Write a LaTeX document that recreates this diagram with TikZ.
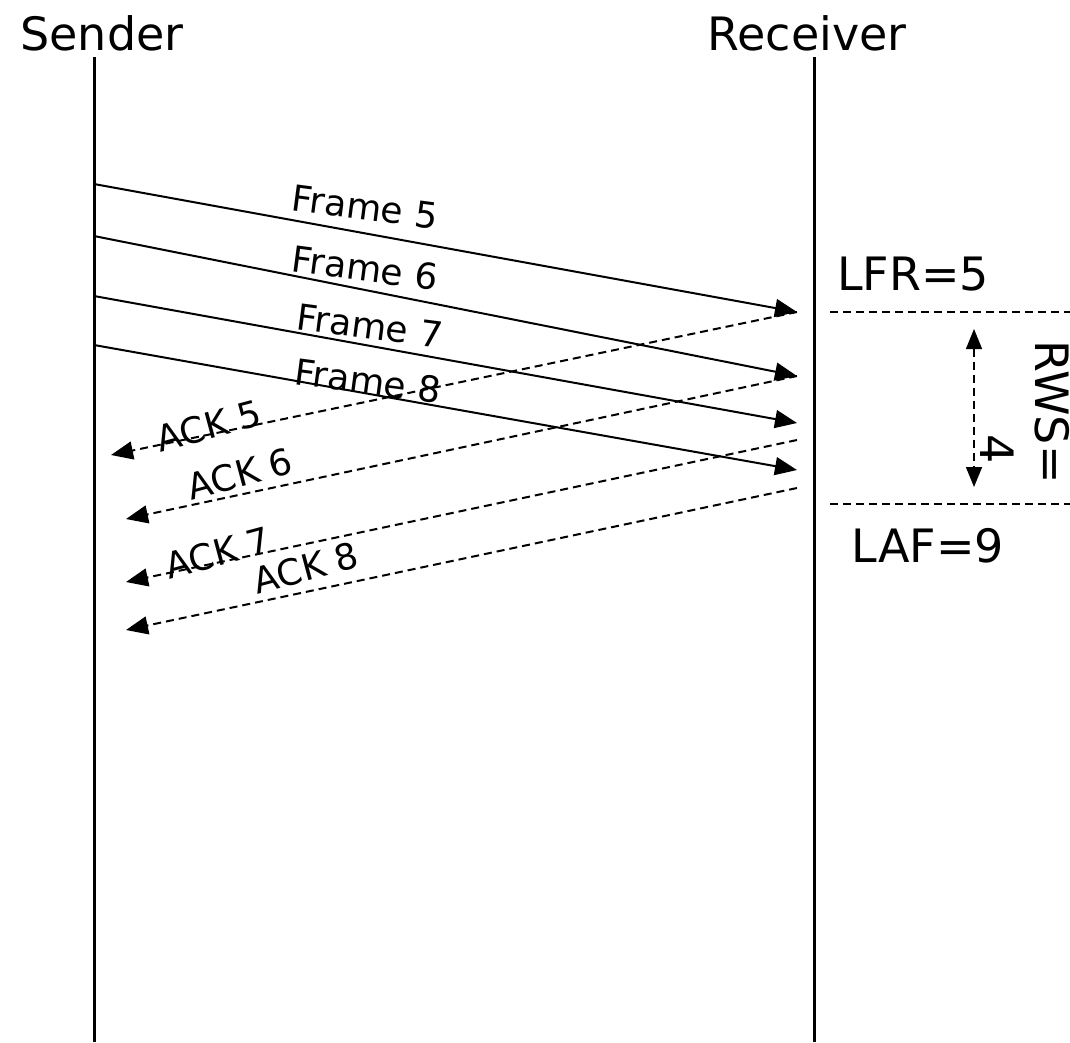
\documentclass[tikz,border=0pt]{standalone}
\usepackage{fontspec}
\setmainfont{DejaVu Sans}
\usetikzlibrary{arrows.meta}
\tikzset{
  lifeline/.style={line width=3pt},
  frameline/.style={line width=2pt, -{Triangle[length=22pt,width=18pt]}},
  ackline/.style={line width=2pt, dash pattern=on 8pt off 5pt, -{Triangle[length=22pt,width=18pt]}},
  winline/.style={line width=1.5pt, dash pattern=on 8pt off 5pt},
  winarrow/.style={line width=1.5pt, dash pattern=on 8pt off 5pt, {Triangle[length=20pt,width=16pt]}-{Triangle[length=20pt,width=16pt]}},
  bigtext/.style={font=\fontsize{46}{50}\selectfont, inner sep=0pt},
  msgtext/.style={font=\fontsize{36}{40}\selectfont, inner sep=0pt}
}
\begin{document}
\begin{tikzpicture}[x=1pt,y=1pt]
			%%%%% START %%%%%
			\useasboundingbox (0,0) rectangle (1070,-1042);
			
			\node[bigtext, anchor=base] (sender) at (102,-50) {Sender};
			\node[bigtext, anchor=base] (receiver) at (807,-50) {Receiver};
			
			\coordinate (stop) at (94,-57);
			\coordinate (sbot) at (94,-1042);
			\coordinate (rtop) at (814,-57);
			\coordinate (rbot) at (814,-1042);
			\draw[lifeline] (stop) -- (sbot);
			\draw[lifeline] (rtop) -- (rbot);
			
			%% frames
			\coordinate (s5) at (94,-184);
			\coordinate (r5) at (797,-312);
			\coordinate (s6) at (94,-236);
			\coordinate (r6) at (797,-376);
			\coordinate (s7) at (94,-296);
			\coordinate (r7) at (797,-423);
			\coordinate (s8) at (94,-345);
			\coordinate (r8) at (797,-470);
			
			\draw[frameline] (s5) -- (r5);
			\draw[frameline] (s6) -- (r6);
			\draw[frameline] (s7) -- (r7);
			\draw[frameline] (s8) -- (r8);
			
			\node[msgtext, rotate=-7.5] (f5) at (365,-207) {Frame 5};
			\node[msgtext, rotate=-7.5] (f6) at (365,-268) {Frame 6};
			\node[msgtext, rotate=-7.5] (f7) at (370,-326) {Frame 7};
			\node[msgtext, rotate=-7.5] (f8) at (368,-381) {Frame 8};
			
			%% acks
			\coordinate (q7) at (797,-440);
			\coordinate (q8) at (797,-488);
			\coordinate (a5) at (111,-455);
			\coordinate (a6) at (126,-519);
			\coordinate (a7) at (126,-582);
			\coordinate (a8) at (126,-630);
			
			\draw[ackline] (r5) -- (a5);
			\draw[ackline] (r6) -- (a6);
			\draw[ackline] (q7) -- (a7);
			\draw[ackline] (q8) -- (a8);
			
			\node[msgtext, rotate=15] (k5) at (209,-426) {ACK 5};
			\node[msgtext, rotate=15] (k6) at (240,-474) {ACK 6};
			\node[msgtext, rotate=15] (k7) at (218,-553) {ACK 7};
			\node[msgtext, rotate=15] (k8) at (306,-568) {ACK 8};
			
			%% window
			\node[bigtext, anchor=base] (lfr) at (913,-290) {LFR=5};
			\node[bigtext, anchor=base] (laf) at (928,-562) {LAF=9};
			
			\coordinate (lfrl) at (830,-312);
			\coordinate (lfrr) at (1070,-312);
			\coordinate (lafl) at (830,-504);
			\coordinate (lafr) at (1070,-504);
			\draw[winline] (lfrl) -- (lfrr);
			\draw[winline] (lafl) -- (lafr);
			
			\coordinate (rwstop) at (974,-329);
			\coordinate (rwsbot) at (974,-487);
			\draw[winarrow] (rwstop) -- (rwsbot);
			
			\node[bigtext, rotate=-90, anchor=base] (rws) at (1035,-412) {RWS=};
			\node[bigtext, rotate=-90, anchor=base] (rwsval) at (980,-449) {4};
			
			%%%%% END %%%%%
\end{tikzpicture}
\end{document}
